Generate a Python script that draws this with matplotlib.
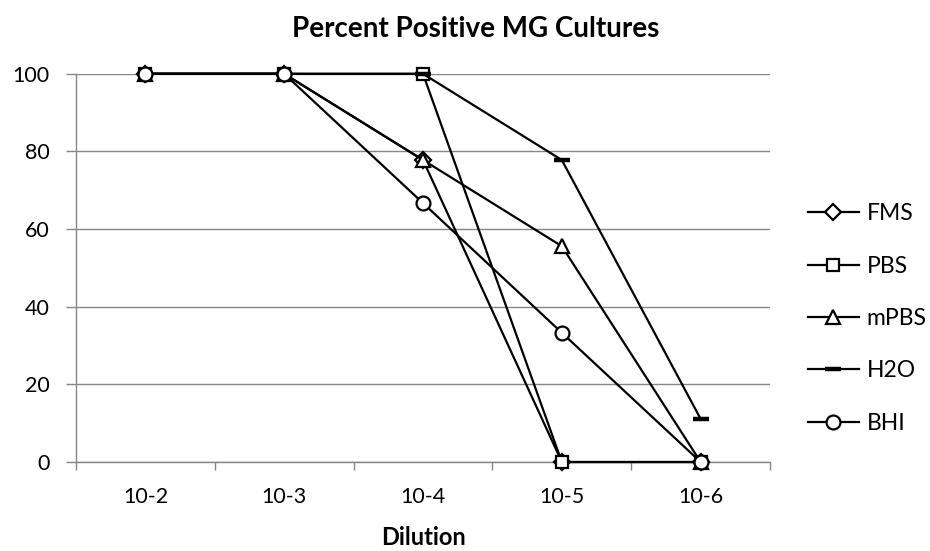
import matplotlib
matplotlib.use("Agg")
import matplotlib.pyplot as plt
import numpy as np

plt.rcParams["font.family"] = ["Lato", "DejaVu Sans"]

dilutions = ["10-2", "10-3", "10-4", "10-5", "10-6"]
fms = [100, 100, 77.8, 0, 0]
pbs = [100, 100, 100, 0, 0]
mpbs = [100, 100, 77.8, 55.6, 0]
h2o = [100, 100, 100, 77.8, 11.1]
bhi = [100, 100, 66.7, 33.3, 0]

series_names = ["FMS", "PBS", "mPBS", "H2O", "BHI"]
series_vals = [fms, pbs, mpbs, h2o, bhi]
markers = ["D", "s", "^", "_", "o"]
msizes = [8, 9, 10, 12, 10]

fig = plt.figure(figsize=(9.3, 5.51), dpi=100)
ax = fig.add_axes([0.0817, 0.1615, 0.7463, 0.7045])

x = np.arange(len(dilutions))
for name, vals, mk, ms in zip(series_names, series_vals, markers, msizes):
    ax.plot(
        x, vals, color="black", linewidth=1.6, label=name,
        marker=mk, markersize=ms,
        markerfacecolor="white" if mk != "_" else "black",
        markeredgecolor="black",
        markeredgewidth=3.2 if mk == "_" else 1.6,
        clip_on=False, zorder=5,
    )

ax.set_xlim(-0.5, len(dilutions) - 0.5)
ax.set_ylim(0, 100)
ax.set_yticks([0, 20, 40, 60, 80, 100])
ax.set_xticks(x)
ax.set_xticklabels(dilutions)
ax.set_xticks(np.arange(-0.5, len(dilutions)), minor=True)
ax.tick_params(axis="x", which="major", length=0, pad=18, labelsize=15.5)
ax.tick_params(axis="x", which="minor", length=6, color="#868686", width=1)
ax.tick_params(axis="y", length=7, color="#868686", width=1, pad=12, labelsize=15.5)

ax.grid(axis="y", color="#868686", linewidth=1)
ax.set_axisbelow(True)
for side in ["top", "right"]:
    ax.spines[side].set_visible(False)
for side in ["left", "bottom"]:
    ax.spines[side].set_color("#868686")
    ax.spines[side].set_linewidth(1)

ax.set_xlabel("Dilution", fontsize=17, fontweight="bold", labelpad=14)
fig.text(0.511, 0.947, "Percent Positive MG Cultures", ha="center", va="center",
         fontsize=20, fontweight="bold")

ax.legend(
    loc="center left", bbox_to_anchor=(0.869, 0.422), bbox_transform=fig.transFigure,
    frameon=False, fontsize=16.5, labelspacing=1.37, handlelength=2.2,
    handletextpad=0.35, borderpad=0, borderaxespad=0,
)

fig.savefig("out.png", dpi=100)
